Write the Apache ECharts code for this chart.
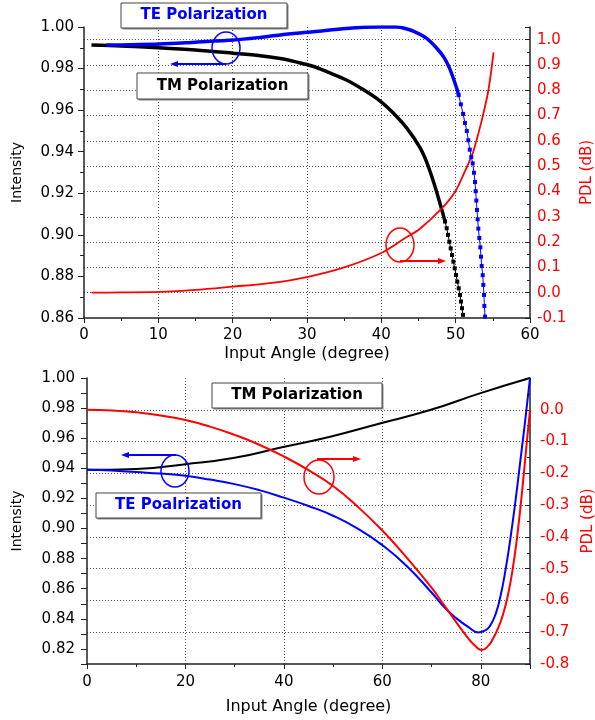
<!DOCTYPE html>
<html>
<head>
<meta charset="utf-8">
<script src="https://cdn.jsdelivr.net/npm/echarts@6/dist/echarts.min.js"></script>
<style>
html, body { margin: 0; padding: 0; background: #fff; }
#chart { width: 595px; height: 720px; }
</style>
</head>
<body>
<div id="chart"></div>
<script>
// upper panel, 0-60 deg : [angle, intensity] / [angle, PDL dB]
var tmTopDense = [[1, 0.9913], [5, 0.9909], [10, 0.990], [15, 0.9889], [20, 0.9874], [23.7, 0.9862], [26.4, 0.9848],
    [28.5, 0.9832], [30.9, 0.981], [33, 0.978], [35.3, 0.9745], [37.5, 0.970], [39.8, 0.9645], [41.5, 0.959],
    [43.4, 0.9515], [45.2, 0.942], [46.1, 0.935], [47.2, 0.9235], [48.3, 0.910]];
var tmTopSparse = [[48.57, 0.9064], [48.79, 0.9032], [48.97, 0.9000], [49.15, 0.8967], [49.33, 0.8935], [49.51, 0.8903],
    [49.69, 0.8871], [49.87, 0.8839], [50.05, 0.8807], [50.22, 0.8775], [50.41, 0.8743], [50.58, 0.8711], [50.72, 0.8679],
    [50.85, 0.8647], [50.99, 0.8615]];
var teTopDense = [[3, 0.9913], [5, 0.9914], [10.2, 0.9918], [15, 0.9927], [20.1, 0.9937], [23.7, 0.995], [26.4, 0.9962],
    [30.9, 0.9977], [35.3, 0.9993], [39.8, 1.0], [42, 1.0], [43.2, 0.9993], [44.3, 0.998], [46.1, 0.9945], [47.4, 0.990],
    [48.4, 0.9855], [49.2, 0.980], [50.1, 0.971]];
var teTopSparse = [[50.4, 0.9672], [50.7, 0.9628], [51.0, 0.9582], [51.25, 0.9538], [51.5, 0.950], [51.7, 0.9455],
    [51.9, 0.941], [52.1, 0.9375], [52.29, 0.9344], [52.47, 0.9299], [52.6, 0.9254], [52.69, 0.921], [52.78, 0.9165],
    [52.87, 0.912], [52.96, 0.9075], [53.05, 0.903], [53.18, 0.8985], [53.32, 0.894], [53.41, 0.8895], [53.5, 0.885],
    [53.64, 0.8806], [53.72, 0.8759], [53.81, 0.8711], [53.86, 0.8658], [53.95, 0.8607]];
var pdlTop = [[1, 0], [5, 0.001], [10, 0.003], [15, 0.011], [20, 0.024], [25, 0.038], [30, 0.062], [35, 0.10], [40, 0.157],
    [43, 0.212], [45.2, 0.253], [48.1, 0.332], [49.9, 0.398], [51.3, 0.483], [51.9, 0.523], [52.4, 0.56], [53.5, 0.68],
    [54.4, 0.80], [55.1, 0.95]];

// lower panel, 0-90 deg
var tmBottom = [[0, 0.939], [10, 0.9396], [20, 0.9427], [30, 0.947], [39.6, 0.954], [49.4, 0.961], [59.5, 0.9698],
    [69.7, 0.9787], [79.8, 0.9898], [90, 1.0]];
var teBottom = [[0, 0.939], [5, 0.9385], [10, 0.9375], [15, 0.9365], [20, 0.935], [25, 0.9325], [30, 0.9295], [35, 0.9255],
    [40, 0.9205], [45, 0.915], [50, 0.9085], [55, 0.900], [60, 0.889], [65, 0.875], [70, 0.8575], [72.5, 0.848],
    [75, 0.8405], [77.5, 0.8345], [79.5, 0.831], [81, 0.8325], [82, 0.836], [83, 0.843], [84, 0.855], [85, 0.872],
    [86, 0.893], [87, 0.917], [88, 0.944], [89, 0.971], [90, 1.0]];
var pdlBottom = [[0, 0], [5, -0.002], [10, -0.008], [15, -0.018], [20, -0.032], [25, -0.053], [30, -0.079], [35, -0.11],
    [40, -0.147], [45, -0.19], [50, -0.24], [55, -0.305], [60, -0.38], [65, -0.466], [70, -0.56], [72.5, -0.614],
    [75, -0.668], [77.5, -0.72], [79, -0.745], [80.2, -0.756], [81.5, -0.743], [82.5, -0.72], [83.5, -0.688],
    [84.5, -0.645], [85.5, -0.585], [86.5, -0.50], [87.5, -0.385], [88.5, -0.24], [89.3, -0.11], [90, 0]];

// axis ranges [min, max, step]
var angleTop = [0, 60, 10];
var angleBottom = [0, 90, 20];
var intensityTop = [0.86, 1.0, 0.02];
var intensityBottom = [0.81, 1.0, 0.01];
var pdlTopRange = [-0.1, 1.05, 0.1];
var pdlBottomRange = [-0.8, 0.1, 0.1];

var FONT = 'DejaVu Sans';
var AXIS = '#222';
var GRIDLINE = { type: [1, 2], color: '#555', width: 1 };

var chart = echarts.init(document.getElementById('chart'));

function xAxis(grid, r, gap, margin) {
    return {
        gridIndex: grid, type: 'value', min: r[0], max: r[1], interval: r[2],
        name: 'Input Angle (degree)', nameLocation: 'middle', nameGap: gap,
        nameTextStyle: { fontFamily: FONT, fontSize: 16, color: '#000' },
        axisLine: { onZero: false, lineStyle: { color: AXIS, width: 1.5 } },
        axisTick: { length: 5, lineStyle: { color: AXIS } },
        minorTick: { show: true, splitNumber: 2, length: 3, lineStyle: { color: AXIS } },
        axisLabel: { fontFamily: FONT, fontSize: 15, color: '#000', margin: margin, showMaxLabel: r[1] % r[2] === 0 },
        splitLine: { show: true, showMinLine: false, showMaxLine: false, lineStyle: GRIDLINE }
    };
}

function leftAxis(grid, r, gap, margin, fmt) {
    return {
        gridIndex: grid, type: 'value', position: 'left', min: r[0], max: r[1], interval: r[2],
        name: 'Intensity', nameLocation: 'middle', nameGap: gap,
        nameTextStyle: { fontFamily: FONT, fontSize: 14, color: '#000' },
        axisLine: { show: true, onZero: false, lineStyle: { color: AXIS, width: 1.5 } },
        axisTick: { show: true, length: 6, lineStyle: { color: AXIS } },
        minorTick: { show: r[2] > 0.01, splitNumber: 2, length: 4, lineStyle: { color: AXIS } },
        axisLabel: { fontFamily: FONT, fontSize: 15, color: '#000', margin: margin, formatter: fmt },
        splitLine: { show: false }
    };
}

function rightAxis(grid, r, gap, margin) {
    return {
        gridIndex: grid, type: 'value', position: 'right', min: r[0], max: r[1], interval: r[2],
        name: 'PDL (dB)', nameLocation: 'middle', nameGap: gap, nameRotate: 90,
        nameTextStyle: { fontFamily: FONT, fontSize: 15, color: '#f00' },
        axisLine: { show: true, onZero: false, lineStyle: { color: AXIS, width: 1.5 } },
        axisTick: { show: true, inside: true, length: 5, lineStyle: { color: AXIS } },
        minorTick: { show: true, splitNumber: 2, length: 3, lineStyle: { color: AXIS } },
        axisLabel: {
            fontFamily: FONT, fontSize: 15, color: '#f00', margin: margin, showMaxLabel: false,
            formatter: function (v) { return v.toFixed(1); }
        },
        splitLine: { show: true, showMinLine: false, showMaxLine: false, lineStyle: GRIDLINE }
    };
}

function thick(data, xi, yi, color, w, smooth) {
    return { type: 'line', xAxisIndex: xi, yAxisIndex: yi, data: data, showSymbol: false, smooth: smooth || 0.3,
        lineStyle: { color: color, width: w }, itemStyle: { color: color } };
}

function dotted(data, xi, yi, color) {
    return { type: 'line', xAxisIndex: xi, yAxisIndex: yi, data: data, symbol: 'rect', symbolSize: 4,
        showAllSymbol: true, lineStyle: { color: color, width: 1 }, itemStyle: { color: color } };
}

function label(x, y, w, h, text, color) {
    return [
        { type: 'rect', z: 50, shape: { x: x + 1.5, y: y + 1.5, width: w, height: h }, style: { fill: '#888' } },
        { type: 'rect', z: 51, shape: { x: x, y: y, width: w, height: h }, style: { fill: '#fff', stroke: '#444', lineWidth: 1 } },
        { type: 'text', z: 52, x: x + w / 2, y: y + h / 2,
          style: { text: text, font: 'bold 15px "DejaVu Sans"', fill: color, textAlign: 'center', textVerticalAlign: 'middle' } }
    ];
}

function marker(cx, cy, rx, ry, x1, x2, ay, color) {
    var dir = x2 > x1 ? 1 : -1;
    return [
        { type: 'ellipse', z: 40, shape: { cx: cx, cy: cy, rx: rx, ry: ry }, style: { fill: null, stroke: color, lineWidth: 1.5 } },
        { type: 'line', z: 40, shape: { x1: x1, y1: ay, x2: x2 - dir * 5, y2: ay }, style: { stroke: color, lineWidth: 1.8 } },
        { type: 'polygon', z: 40, shape: { points: [[x2, ay], [x2 - dir * 8, ay - 3], [x2 - dir * 8, ay + 3]] }, style: { fill: color } }
    ];
}

var fmt2 = function (v) { return v.toFixed(2); };
var fmtEven = function (v) { return Math.round(v * 100) % 2 === 0 ? v.toFixed(2) : ''; };

var option = {
    animation: false,
    backgroundColor: '#fff',
    grid: [
        { left: 84, top: 27, width: 446, height: 291, outerBoundsMode: 'none' },
        { left: 87, top: 378, width: 443, height: 286, outerBoundsMode: 'none' }
    ],
    xAxis: [xAxis(0, angleTop, 28, 10), xAxis(1, angleBottom, 35, 11)],
    yAxis: [
        leftAxis(0, intensityTop, 60, 10, fmt2),
        rightAxis(0, pdlTopRange, 50, 7),
        leftAxis(1, intensityBottom, 63, 12, fmtEven),
        rightAxis(1, pdlBottomRange, 50, 10)
    ],
    series: [
        thick(tmTopDense.concat([tmTopSparse[0]]), 0, 0, '#000', 3.5),
        dotted(tmTopSparse, 0, 0, '#000'),
        thick(teTopDense.concat([teTopSparse[0]]), 0, 0, '#00f', 3.5),
        dotted(teTopSparse, 0, 0, '#00f'),
        thick(pdlTop, 0, 1, '#f00', 1.8),
        thick(tmBottom, 1, 2, '#000', 2, 0.5),
        thick(teBottom, 1, 2, '#00f', 2, 0.5),
        thick(pdlBottom, 1, 3, '#f00', 2, 0.5)
    ],
    graphic: [].concat(
        label(121, 3, 166, 25, 'TE Polarization', '#00f'),
        label(137, 73, 171, 26, 'TM Polarization', '#000'),
        marker(226, 48, 14, 16, 226, 170, 64, '#00f'),
        marker(400, 245, 14, 17, 400, 446, 261, '#f00'),
        label(212, 383, 170, 25, 'TM Polarization', '#000'),
        label(96, 493, 165, 25, 'TE Poalrization', '#00f'),
        marker(175, 471, 14, 16, 176, 121, 455, '#00f'),
        marker(319, 477, 15, 17, 317, 361, 459, '#f00')
    )
};

chart.setOption(option);
</script>
</body>
</html>
